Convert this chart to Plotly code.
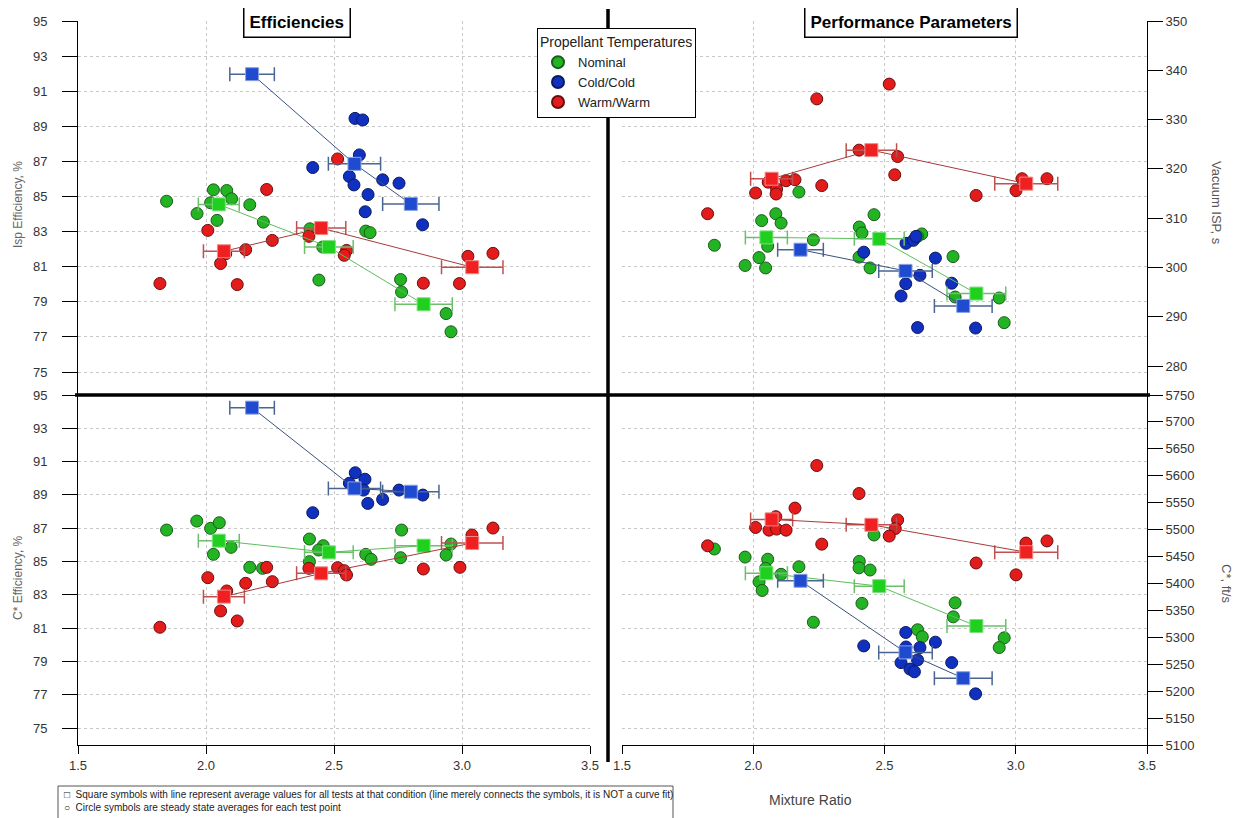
import plotly.graph_objects as go

W, H = 1243, 818
BODY_OFFSET = 8  # default page margin of the html body

# ---------------- data ----------------
# averaged test conditions (squares)
avg_mr_nom = [2.05, 2.48, 2.85]
avg_mr_cold = [2.18, 2.58, 2.80]
avg_mr_warm = [2.07, 2.45, 3.04]
avg_err_nom = [0.08, 0.095, 0.112]
avg_err_cold = [0.087, 0.102, 0.11]
avg_err_warm = [0.08, 0.096, 0.12]

isp_eff_avg_nom = [84.55, 82.12, 78.86]
isp_eff_avg_cold = [91.97, 86.86, 84.58]
isp_eff_avg_warm = [81.88, 83.20, 80.97]

isp_avg_nom = [306.1, 305.8, 294.7]
isp_avg_cold = [303.6, 299.3, 292.2]
isp_avg_warm = [318.0, 323.8, 317.0]

cst_eff_avg_nom = [86.25, 85.55, 85.95]
cst_eff_avg_cold = [94.24, 89.39, 89.19]
cst_eff_avg_warm = [82.89, 84.29, 86.11]

cst_avg_nom = [5419, 5395, 5321]
cst_avg_cold = [5405, 5272, 5224]
cst_avg_warm = [5519, 5509, 5458]

# steady state test points (circles)
isp_eff_nom_mr = [1.846, 1.965, 2.029, 2.081, 2.100, 2.018, 2.043, 2.171, 2.224, 2.406, 2.441, 2.456, 2.624, 2.641, 2.760, 2.764, 2.938, 2.957]
isp_eff_nom = [84.73, 84.03, 85.38, 85.34, 84.87, 84.64, 83.64, 84.53, 83.54, 83.16, 80.24, 82.12, 83.03, 82.94, 80.27, 79.56, 78.33, 77.29]
isp_eff_cold_mr = [2.417, 2.582, 2.612, 2.599, 2.560, 2.578, 2.690, 2.754, 2.633, 2.622, 2.846]
isp_eff_cold = [86.65, 89.45, 89.36, 87.37, 86.14, 85.66, 85.95, 85.76, 85.11, 84.13, 83.39]
isp_eff_warm_mr = [1.820, 2.007, 2.077, 2.057, 2.122, 2.155, 2.237, 2.259, 2.514, 2.402, 2.549, 2.540, 2.849, 2.990, 3.023, 3.121]
isp_eff_warm = [80.04, 83.07, 81.74, 81.18, 79.98, 81.97, 85.40, 82.50, 87.14, 82.73, 81.93, 81.65, 80.06, 80.04, 81.59, 81.76]

isp_nom_mr = [1.852, 1.969, 2.047, 2.022, 2.055, 2.032, 2.086, 2.106, 2.174, 2.229, 2.460, 2.404, 2.414, 2.403, 2.445, 2.642, 2.626, 2.761, 2.769, 2.937, 2.956]
isp_nom = [304.5, 300.4, 299.9, 302.0, 304.3, 309.5, 310.9, 309.0, 315.3, 305.6, 310.7, 308.2, 307.0, 302.1, 299.9, 306.8, 306.3, 302.2, 294.0, 293.8, 288.8]
isp_cold_mr = [2.421, 2.582, 2.610, 2.620, 2.694, 2.635, 2.581, 2.563, 2.626, 2.756, 2.847]
isp_cold = [303.1, 304.9, 305.5, 306.3, 301.9, 298.4, 296.7, 294.2, 287.8, 296.8, 287.7]
isp_warm_mr = [2.518, 2.242, 2.403, 2.550, 2.539, 2.125, 2.159, 2.057, 2.089, 2.087, 2.009, 2.261, 1.826, 2.849, 3.001, 3.024, 3.119]
isp_warm = [337.2, 334.2, 323.8, 322.5, 318.8, 317.6, 317.8, 317.3, 315.9, 314.9, 315.1, 316.6, 310.9, 314.6, 315.6, 318.0, 318.0]

cst_eff_nom_mr = [1.846, 1.964, 2.018, 2.052, 2.029, 2.098, 2.171, 2.221, 2.404, 2.458, 2.440, 2.404, 2.624, 2.645, 2.764, 2.760, 2.938, 2.957]
cst_eff_nom = [86.89, 87.43, 86.99, 87.33, 85.43, 85.85, 84.65, 84.59, 86.35, 85.95, 85.69, 84.99, 85.43, 85.13, 86.89, 85.23, 85.39, 86.05]
cst_eff_cold_mr = [2.417, 2.583, 2.560, 2.621, 2.615, 2.632, 2.690, 2.754, 2.847]
cst_eff_cold = [87.93, 90.33, 89.70, 89.94, 89.29, 88.49, 88.73, 89.29, 88.99]
cst_eff_warm_mr = [1.820, 2.007, 2.081, 2.057, 2.122, 2.155, 2.237, 2.259, 2.402, 2.514, 2.540, 2.549, 2.849, 2.992, 3.039, 3.121]
cst_eff_warm = [81.05, 84.03, 83.23, 82.03, 81.43, 83.69, 84.65, 83.79, 84.59, 84.63, 84.45, 84.19, 84.55, 84.65, 86.59, 87.01]

cst_nom_mr = [1.852, 1.969, 2.055, 2.047, 2.022, 2.034, 2.106, 2.174, 2.229, 2.404, 2.403, 2.445, 2.460, 2.414, 2.626, 2.644, 2.769, 2.762, 2.956, 2.937]
cst_nom = [5464, 5449, 5445, 5428, 5403, 5387, 5417, 5431, 5328, 5441, 5429, 5425, 5490, 5363, 5314, 5301, 5364, 5338, 5299, 5281]
cst_cold_mr = [2.421, 2.581, 2.635, 2.582, 2.694, 2.626, 2.563, 2.597, 2.614, 2.756, 2.847]
cst_cold = [5284, 5309, 5281, 5282, 5291, 5258, 5253, 5241, 5236, 5253, 5195]
cst_warm_mr = [2.242, 2.403, 2.159, 2.086, 2.009, 2.060, 2.089, 2.125, 2.261, 1.826, 2.550, 2.541, 2.518, 2.849, 3.001, 3.039, 3.119]
cst_warm = [5619, 5567, 5540, 5524, 5504, 5499, 5501, 5499, 5473, 5470, 5518, 5502, 5488, 5438, 5416, 5475, 5479]

series_names = ["Nominal", "Cold/Cold", "Warm/Warm"]
x_ticks = [1.5, 2.0, 2.5, 3.0, 3.5]
eff_ticks = [75, 77, 79, 81, 83, 85, 87, 89, 91, 93, 95]
isp_ticks = [280, 290, 300, 310, 320, 330, 340, 350]
cst_ticks = list(range(5100, 5751, 50))

# ---------------- styles ----------------
CIRCLE_COL = ["#22b422", "#1030c0", "#e41b1b"]
CIRCLE_EDGE = ["#1d5a1d", "#0b1a60", "#6a0f0f"]
SQ_COL = ["#1fd01f", "#1f4bd0", "#f02020"]
SQ_EDGE = ["#7ee07e", "#8aa0e0", "#f08a8a"]
LINE_COL = ["#5cbf5c", "#3c5080", "#a83a3a"]
ERR_COL = ["#6cc06c", "#4a6690", "#c05050"]

FONT = "Liberation Sans, Arial, sans-serif"

fig = go.Figure()


def px_x(p):
    return (p - BODY_OFFSET) / W


def px_y(p):
    return 1 - (p - BODY_OFFSET) / H


def add_panel(xa, ya, circles, avgs, legend=False):
    for i, (mr, val) in enumerate(circles):
        fig.add_trace(go.Scatter(
            x=mr, y=val, mode="markers", xaxis=xa, yaxis=ya,
            name=series_names[i], showlegend=legend, legendgroup=series_names[i],
            marker=dict(symbol="circle", size=12, color=CIRCLE_COL[i],
                        line=dict(color=CIRCLE_EDGE[i], width=1)),
            hoverinfo="x+y"))
    for i, (mr, err, val) in enumerate(avgs):
        fig.add_trace(go.Scatter(
            x=mr, y=val, mode="lines+markers", xaxis=xa, yaxis=ya,
            showlegend=False, legendgroup=series_names[i],
            line=dict(color=LINE_COL[i], width=1),
            marker=dict(symbol="square", size=13, color=SQ_COL[i],
                        line=dict(color=SQ_EDGE[i], width=1)),
            error_x=dict(type="data", array=err, visible=True, color=ERR_COL[i],
                         thickness=1.5, width=7),
            hoverinfo="x+y"))


# empty traces so that the grid-only base subplots of the right panels exist
fig.add_trace(go.Scatter(x=[], y=[], xaxis="x2", yaxis="y2", showlegend=False, hoverinfo="skip"))
fig.add_trace(go.Scatter(x=[], y=[], xaxis="x4", yaxis="y5", showlegend=False, hoverinfo="skip"))

add_panel("x", "y",
          [(isp_eff_nom_mr, isp_eff_nom), (isp_eff_cold_mr, isp_eff_cold), (isp_eff_warm_mr, isp_eff_warm)],
          [(avg_mr_nom, avg_err_nom, isp_eff_avg_nom), (avg_mr_cold, avg_err_cold, isp_eff_avg_cold),
           (avg_mr_warm, avg_err_warm, isp_eff_avg_warm)], legend=True)
add_panel("x2", "y3",
          [(isp_nom_mr, isp_nom), (isp_cold_mr, isp_cold), (isp_warm_mr, isp_warm)],
          [(avg_mr_nom, avg_err_nom, isp_avg_nom), (avg_mr_cold, avg_err_cold, isp_avg_cold),
           (avg_mr_warm, avg_err_warm, isp_avg_warm)])
add_panel("x3", "y4",
          [(cst_eff_nom_mr, cst_eff_nom), (cst_eff_cold_mr, cst_eff_cold), (cst_eff_warm_mr, cst_eff_warm)],
          [(avg_mr_nom, avg_err_nom, cst_eff_avg_nom), (avg_mr_cold, avg_err_cold, cst_eff_avg_cold),
           (avg_mr_warm, avg_err_warm, cst_eff_avg_warm)])
add_panel("x4", "y6",
          [(cst_nom_mr, cst_nom), (cst_cold_mr, cst_cold), (cst_warm_mr, cst_warm)],
          [(avg_mr_nom, avg_err_nom, cst_avg_nom), (avg_mr_cold, avg_err_cold, cst_avg_cold),
           (avg_mr_warm, avg_err_warm, cst_avg_warm)])

LEFT_DOM = [px_x(78), px_x(590)]
RIGHT_DOM = [px_x(622), px_x(1147)]
TOP_DOM = [px_y(395), px_y(21)]
BOT_DOM = [px_y(745), px_y(395)]

GRID = dict(showgrid=True, gridcolor="#c8c8c8", griddash="dot", gridwidth=1)
TICKFONT = dict(family=FONT, size=13, color="#333333")

x_common = dict(range=[1.5, 3.5], tickvals=x_ticks, ticktext=["%.1f" % v for v in x_ticks],
                zeroline=False, tickfont=TICKFONT, automargin=False, **GRID)
x_top = dict(x_common, showticklabels=False, showline=False, ticks="")
x_bot = dict(x_common, showline=True, linecolor="black", linewidth=1, ticks="outside",
             ticklen=8, tickcolor="black", mirror=False)

y_eff_left = dict(tickvals=eff_ticks, ticktext=[str(v) for v in eff_ticks], zeroline=False,
                  showline=True, linecolor="black", linewidth=1, ticks="outside", ticklen=15,
                  tickcolor="black", tickfont=TICKFONT, ticklabelstandoff=12, automargin=False,
                  **GRID)
y_grid_only = dict(tickvals=eff_ticks, showticklabels=False, showline=False, ticks="",
                   zeroline=False, automargin=False, **GRID)
y_right = dict(side="right", showgrid=False, zeroline=False, showline=True, linecolor="black",
               linewidth=1, ticks="outside", ticklen=15, tickcolor="black", tickfont=TICKFONT,
               automargin=False)

fig.update_layout(
    width=W, height=H,
    margin=dict(l=0, r=0, t=0, b=0, pad=0, autoexpand=False),
    paper_bgcolor="white", plot_bgcolor="white",
    font=dict(family=FONT, color="#333333"),
    xaxis=dict(x_top, domain=LEFT_DOM, anchor="y"),
    yaxis=dict(y_eff_left, domain=TOP_DOM, anchor="x", range=[73.69, 95]),
    xaxis2=dict(x_top, domain=RIGHT_DOM, anchor="y2"),
    yaxis2=dict(y_grid_only, domain=TOP_DOM, anchor="x2", range=[73.69, 95]),
    yaxis3=dict(y_right, overlaying="y2", anchor="x2", domain=TOP_DOM, range=[274.12, 350],
                tickvals=isp_ticks, ticktext=[str(v) for v in isp_ticks]),
    xaxis3=dict(x_bot, domain=LEFT_DOM, anchor="y4"),
    yaxis4=dict(y_eff_left, domain=BOT_DOM, anchor="x3", range=[73.98, 95]),
    xaxis4=dict(x_bot, domain=RIGHT_DOM, anchor="y5"),
    yaxis5=dict(y_grid_only, domain=BOT_DOM, anchor="x4", range=[73.98, 95]),
    yaxis6=dict(y_right, overlaying="y5", anchor="x4", domain=BOT_DOM, range=[5100, 5750],
                tickvals=cst_ticks, ticktext=[str(v) for v in cst_ticks]),
    legend=dict(
        x=px_x(537), y=px_y(28), xanchor="left", yanchor="top",
        bgcolor="white", bordercolor="black", borderwidth=1,
        title=dict(text="Propellant Temperatures", side="top",
                   font=dict(family=FONT, size=14, color="#222222")),
        font=dict(family=FONT, size=13, color="#222222"),
        tracegroupgap=0, itemsizing="constant",
    ),
    showlegend=True,
)

# thick dividing lines
fig.add_shape(type="line", xref="paper", yref="paper", x0=px_x(75), x1=px_x(1150),
              y0=px_y(395), y1=px_y(395), line=dict(color="black", width=3.5), layer="above")
fig.add_shape(type="line", xref="paper", yref="paper", x0=px_x(608), x1=px_x(608),
              y0=px_y(762), y1=px_y(9), line=dict(color="black", width=3.5), layer="above")

# footnote box
fig.add_shape(type="rect", xref="paper", yref="paper", x0=px_x(58), x1=px_x(673),
              y0=px_y(830), y1=px_y(786), line=dict(color="#555555", width=1),
              fillcolor="white", layer="above")

annots = [
    dict(text="<b>Efficiencies</b>", x=px_x(297), y=px_y(22), font=dict(size=17, color="black"),
         bordercolor="black", borderwidth=1.5, borderpad=5, bgcolor="white"),
    dict(text="<b>Performance Parameters</b>", x=px_x(911), y=px_y(22),
         font=dict(size=17, color="black"),
         bordercolor="black", borderwidth=1.5, borderpad=5, bgcolor="white"),
    dict(text="Isp Efficiency, %", x=px_x(18), y=px_y(205), textangle=-90,
         font=dict(size=12, color="#666666")),
    dict(text="C* Efficiency, %", x=px_x(18), y=px_y(578), textangle=-90,
         font=dict(size=12, color="#666666")),
    dict(text="Vacuum ISP, s", x=px_x(1216), y=px_y(203), textangle=90,
         font=dict(size=13, color="#555555")),
    dict(text="C*, ft/s", x=px_x(1227), y=px_y(584), textangle=90,
         font=dict(size=13, color="#555555")),
    dict(text="Mixture Ratio", x=px_x(810), y=px_y(800), font=dict(size=14, color="#444444")),
]
for a in annots:
    fig.add_annotation(xref="paper", yref="paper", showarrow=False, xanchor="center",
                       yanchor="middle", **a)

fig.add_annotation(
    xref="paper", yref="paper", x=px_x(62), y=px_y(787), xanchor="left", yanchor="top",
    showarrow=False, align="left",
    text=("\u25a1&nbsp;&nbsp;Square symbols with line represent average values for all tests at that "
          "condition (line merely connects the symbols, it is NOT a curve fit)<br>"
          "\u25cb&nbsp;&nbsp;Circle symbols are steady state averages for each test point"),
    font=dict(family=FONT, size=10, color="#222222"))

fig.write_html("out.html")
